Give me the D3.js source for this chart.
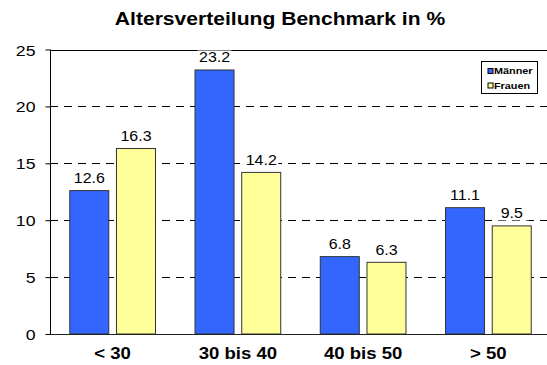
<!DOCTYPE html>
<html>
<head>
<meta charset="utf-8">
<script src="https://cdn.jsdelivr.net/npm/d3@7"></script>
<style>
  html, body { margin: 0; padding: 0; background: #fff; }
  svg { display: block; font-family: "Liberation Sans", Arial, sans-serif; }
</style>
</head>
<body>
<svg id="chart" width="547" height="365"></svg>
<script>
// Age distribution (percent) per age group
const categories = ["< 30", "30 bis 40", "40 bis 50", "> 50"];
const seriesNames = ["Männer", "Frauen"];
const maenner = [12.6, 23.2, 6.8, 11.1];
const frauen = [16.3, 14.2, 6.3, 9.5];
const yTicks = [0, 5, 10, 15, 20, 25];
const colors = ["#3366FF", "#FFFF99"];

const svg = d3.select("#chart");
const plot = { left: 50, top: 49.5, width: 501, height: 284.5 };
const SX = 1.14; // horizontal widening of the typeface

// places a text at (x, y) with a slightly wider glyph shape
function placeText(sel, x, y) {
  sel.attr("x", 0).attr("y", 0)
    .attr("transform", (d, i, n) => {
      const px = typeof x === "function" ? x(d, i, n) : x;
      const py = typeof y === "function" ? y(d, i, n) : y;
      return `translate(${px},${py}) scale(${SX},1)`;
    });
  return sel;
}

const x = d3.scaleBand().domain(categories)
  .range([plot.left, plot.left + plot.width]).paddingInner(0).paddingOuter(0);
const y = d3.scaleLinear().domain([0, 25]).range([plot.top + plot.height, plot.top]);

// Title
svg.append("text")
  .attr("text-anchor", "middle")
  .attr("font-size", 18.5).attr("font-weight", "bold")
  .text("Altersverteilung Benchmark in %")
  .call(placeText, 280, 25);

// Horizontal dashed gridlines
svg.append("g").selectAll("line")
  .data(yTicks.filter(d => d > 0 && d < 25))
  .join("line")
  .attr("x1", plot.left).attr("x2", plot.left + plot.width)
  .attr("y1", d => Math.round(y(d)) + 0.5).attr("y2", d => Math.round(y(d)) + 0.5)
  .attr("stroke", "#000").attr("stroke-width", 1)
  .attr("stroke-dasharray", "8,6");

// Top border of plot area
svg.append("line")
  .attr("x1", plot.left).attr("x2", plot.left + plot.width)
  .attr("y1", Math.round(y(25)) + 0.5).attr("y2", Math.round(y(25)) + 0.5)
  .attr("stroke", "#000");

// Bars with value labels
const series = [maenner, frauen];
const barW = 39, barGap = 7.7;
const barX = (i, si) => x(categories[i]) + x.bandwidth() / 2 - barW - barGap / 2 + si * (barW + barGap);
series.forEach((vals, si) => {
  const g = svg.append("g");
  g.selectAll("rect")
    .data(vals)
    .join("rect")
    .attr("x", (d, i) => barX(i, si))
    .attr("y", d => y(d))
    .attr("width", barW)
    .attr("height", d => y(0) - y(d))
    .attr("fill", colors[si])
    .attr("stroke", "#333").attr("stroke-width", 1);
  // white backing behind each label
  g.selectAll("rect.lbl-bg")
    .data(vals)
    .join("rect")
    .attr("class", "lbl-bg")
    .attr("x", (d, i) => barX(i, si) + barW / 2 - 17)
    .attr("y", d => y(d) - 7.5 - 12)
    .attr("width", 34).attr("height", 14)
    .attr("fill", "#fff");
  g.selectAll("text")
    .data(vals)
    .join("text")
    .attr("text-anchor", "middle")
    .attr("font-size", 14)
    .text(d => d.toFixed(1))
    .call(placeText, (d, i) => barX(i, si) + barW / 2, d => y(d) - 7.5);
});

// Y axis
const yAxis = d3.axisLeft(y).tickValues(yTicks).tickSize(5).tickPadding(10);
const gy = svg.append("g").attr("transform", `translate(${plot.left + 0.5},0)`).call(yAxis);
gy.selectAll("line, path").attr("stroke", "#000");
gy.select(".domain").attr("d", `M0,${y(25)}V${y(0)}`);
gy.selectAll("text")
  .attr("font-size", 15.5).attr("fill", "#000")
  .attr("font-family", "Liberation Sans, Arial, sans-serif")
  .attr("dy", "0.36em")
  .call(placeText, -15, 0);

// X axis
const xAxis = d3.axisBottom(x).tickSize(0);
const gx = svg.append("g").attr("transform", `translate(0,${Math.round(y(0)) + 0.5})`).call(xAxis);
gx.select(".domain").attr("stroke", "#222").attr("d", `M${plot.left},0H${plot.left + plot.width}`);
gx.selectAll("text")
  .attr("font-size", 16.3).attr("font-weight", "bold").attr("fill", "#000")
  .attr("font-family", "Liberation Sans, Arial, sans-serif")
  .attr("dy", null)
  .call(placeText, 0, 24);

// Legend
const leg = svg.append("g").attr("transform", "translate(481.5,61.5)");
leg.append("rect").attr("width", 56).attr("height", 32)
  .attr("fill", "#fff").attr("stroke", "#000");
seriesNames.forEach((name, i) => {
  leg.append("rect").attr("x", 6.5).attr("y", 7 + i * 14.5).attr("width", 5).attr("height", 5)
    .attr("fill", colors[i]).attr("stroke", "#000");
  leg.append("text")
    .attr("font-size", 9.5).attr("font-weight", "bold").text(name)
    .call(placeText, 12.5, 12.8 + i * 14.5);
});
</script>
</body>
</html>
